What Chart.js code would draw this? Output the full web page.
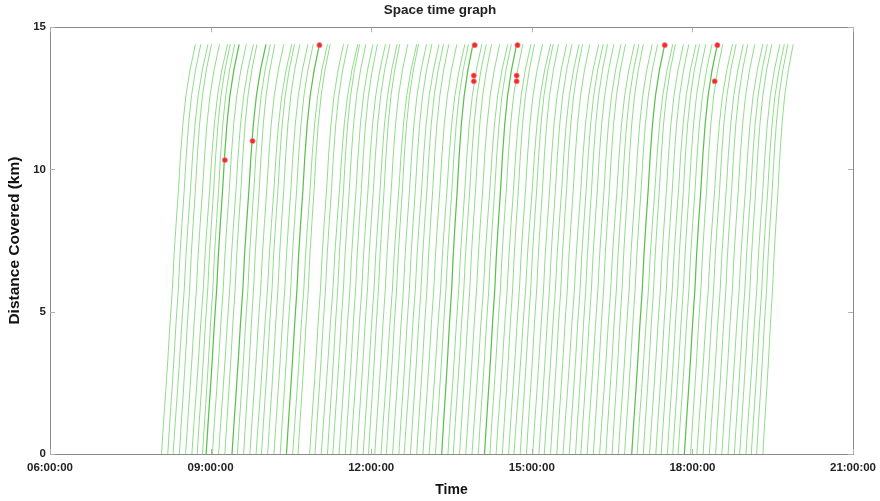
<!DOCTYPE html>
<html>
<head>
<meta charset="utf-8">
<script src="https://cdn.jsdelivr.net/npm/chart.js@4"></script>
<style>
  body { margin: 0; background: #fff; }
  #wrap { width: 880px; height: 501px; }
</style>
</head>
<body>
<div id="wrap"><canvas id="graf"></canvas></div>
<script>
// departure times of trips (minutes after midnight)
const departures = [
  485, 492, 498, 505, 512, 519, 525, 531, 535, 542,
  549, 556, 564, 570, 577, 584, 591, 597, 604, 611,
  618, 625, 632, 638, 651, 657, 664, 671, 677, 684,
  691, 697, 704, 711, 717, 724, 731, 737, 744, 751,
  757, 764, 771, 778, 785, 792, 799, 806, 812, 819,
  826, 833, 840, 847, 853, 860, 867, 874, 880, 887,
  894, 901, 908, 914, 921, 928, 935, 942, 949, 955,
  962, 969, 976, 983, 990, 997, 1004, 1012, 1018, 1025,
  1032, 1039, 1045, 1052, 1058, 1064, 1071, 1078, 1085, 1092,
  1099, 1106, 1113, 1120, 1127, 1133, 1140, 1146, 1152, 1159
];
// travel time of each trip to the end of the line (minutes)
const travelTimes = [
  38, 37, 39, 36, 38, 40, 37, 36, 37, 38,
  39, 36, 38, 37, 35, 38, 40, 37, 36, 38,
  37, 37, 39, 36, 38, 37, 41, 36, 37, 38,
  36, 39, 37, 38, 35, 37, 40, 36, 38, 37,
  39, 37, 36, 38, 40, 37, 35, 38, 37, 36,
  38, 40, 37, 36, 37, 39, 36, 38, 41, 37,
  36, 38, 37, 39, 36, 37, 40, 38, 36, 37,
  38, 36, 39, 37, 35, 38, 37, 37, 40, 36,
  38, 37, 39, 36, 37, 38, 37, 36, 40, 37,
  38, 36, 37, 39, 37, 36, 38, 37, 35, 34
];
// stations along the line (km) and share of travel time used to reach them
const stationKm = [0, 1.1, 2.3, 3.4, 4.6, 5.8, 7.0, 8.1, 9.3, 10.5, 11.6, 12.6, 13.5, 14.4];
const stationShare = [0, 0.06, 0.13, 0.19, 0.25, 0.32, 0.37, 0.43, 0.50, 0.56, 0.63, 0.72, 0.84, 1.0];
// trips drawn darker
const highlighted = [8, 12, 21, 46, 53, 77, 86];
// red markers (minutes, km)
const markerTime = [556, 587, 662, 836, 835, 835, 884, 883, 883, 1049, 1108, 1105];
const markerKm = [10.33, 11.0, 14.37, 14.37, 13.3, 13.1, 14.37, 13.3, 13.1, 14.37, 14.37, 13.1];

const xTicks = [360, 540, 720, 900, 1080, 1260];

function hhmmss(min) {
  const h = Math.floor(min / 60);
  return (h < 10 ? "0" + h : "" + h) + ":00:00";
}

const datasets = [];

// markery první, aby byly nahoře
datasets.push({
  data: markerTime.map((t, i) => ({ x: t, y: markerKm[i] })),
  showLine: false,
  pointRadius: 2.6,
  pointBackgroundColor: "rgb(235,45,45)",
  pointBorderColor: "rgba(255,130,130,0.7)",
  pointBorderWidth: 1,
  order: 0
});

departures.forEach((dep, i) => {
  const dark = highlighted.includes(i);
  datasets.push({
    data: stationKm.map((km, k) => ({ x: dep + stationShare[k] * travelTimes[i], y: km })),
    showLine: true,
    pointRadius: 0,
    borderColor: dark ? "rgba(80,190,65,0.95)" : "rgba(100,208,90,0.72)",
    borderWidth: dark ? 1.25 : 1,
    tension: 0,
    order: dark ? 1 : 2
  });
});

const frame = {
  id: "frame",
  afterDatasetsDraw(chart) {
    const { ctx, chartArea: a, scales: { x, y } } = chart;
    ctx.save();
    ctx.strokeStyle = "#8a8a8a";
    ctx.lineWidth = 1;
    ctx.strokeRect(Math.round(a.left) + 0.5, Math.round(a.top) + 0.5,
      Math.round(a.right - a.left), Math.round(a.bottom - a.top));
    ctx.strokeStyle = "#b0b0b0";
    ctx.beginPath();
    x.ticks.forEach(t => {
      const px = Math.round(x.getPixelForValue(t.value)) + 0.5;
      ctx.moveTo(px, a.bottom); ctx.lineTo(px, a.bottom - 5);
      ctx.moveTo(px, a.top); ctx.lineTo(px, a.top + 5);
    });
    y.ticks.forEach(t => {
      const py = Math.round(y.getPixelForValue(t.value)) + 0.5;
      ctx.moveTo(a.left, py); ctx.lineTo(a.left + 5, py);
      ctx.moveTo(a.right, py); ctx.lineTo(a.right - 5, py);
    });
    ctx.stroke();
    ctx.restore();
  }
};

new Chart(document.getElementById("graf"), {
  type: "scatter",
  data: { datasets: datasets },
  plugins: [frame],
  options: {
    responsive: true,
    maintainAspectRatio: false,
    animation: false,
    layout: { padding: 0 },
    plugins: {
      legend: { display: false },
      tooltip: { enabled: false },
      title: {
        display: true,
        text: "Space time graph",
        color: "#222",
        font: { family: "Liberation Sans, Arial, sans-serif", size: 13.5, weight: "bold" },
        padding: { top: 2, bottom: 9 }
      }
    },
    scales: {
      x: {
        type: "linear",
        min: 360,
        max: 1260,
        afterBuildTicks: s => { s.ticks = xTicks.map(v => ({ value: v })); },
        afterFit: s => { s.height = 47; s.paddingLeft = 0; s.paddingRight = 27; },
        grid: { display: false, drawTicks: false },
        border: { display: false },
        ticks: {
          padding: 7,
          maxRotation: 0,
          autoSkip: false,
          color: "#222",
          font: { family: "Liberation Sans, Arial, sans-serif", size: 11.5, weight: "bold" },
          callback: v => hhmmss(v)
        },
        title: {
          display: true,
          text: "Time",
          color: "#111",
          font: { family: "Liberation Sans, Arial, sans-serif", size: 14, weight: "bold" },
          padding: { top: 2, bottom: 2 }
        }
      },
      y: {
        min: 0,
        max: 15,
        afterFit: s => { s.width = 50; },
        grid: { display: false, drawTicks: false },
        border: { display: false },
        ticks: {
          stepSize: 5,
          padding: 4,
          color: "#222",
          font: { family: "Liberation Sans, Arial, sans-serif", size: 11.5, weight: "bold" }
        },
        title: {
          display: true,
          text: "Distance Covered (km)",
          color: "#111",
          font: { family: "Liberation Sans, Arial, sans-serif", size: 15.5, weight: "bold" },
          padding: { top: 5, bottom: 1 }
        }
      }
    }
  }
});
</script>
</body>
</html>
